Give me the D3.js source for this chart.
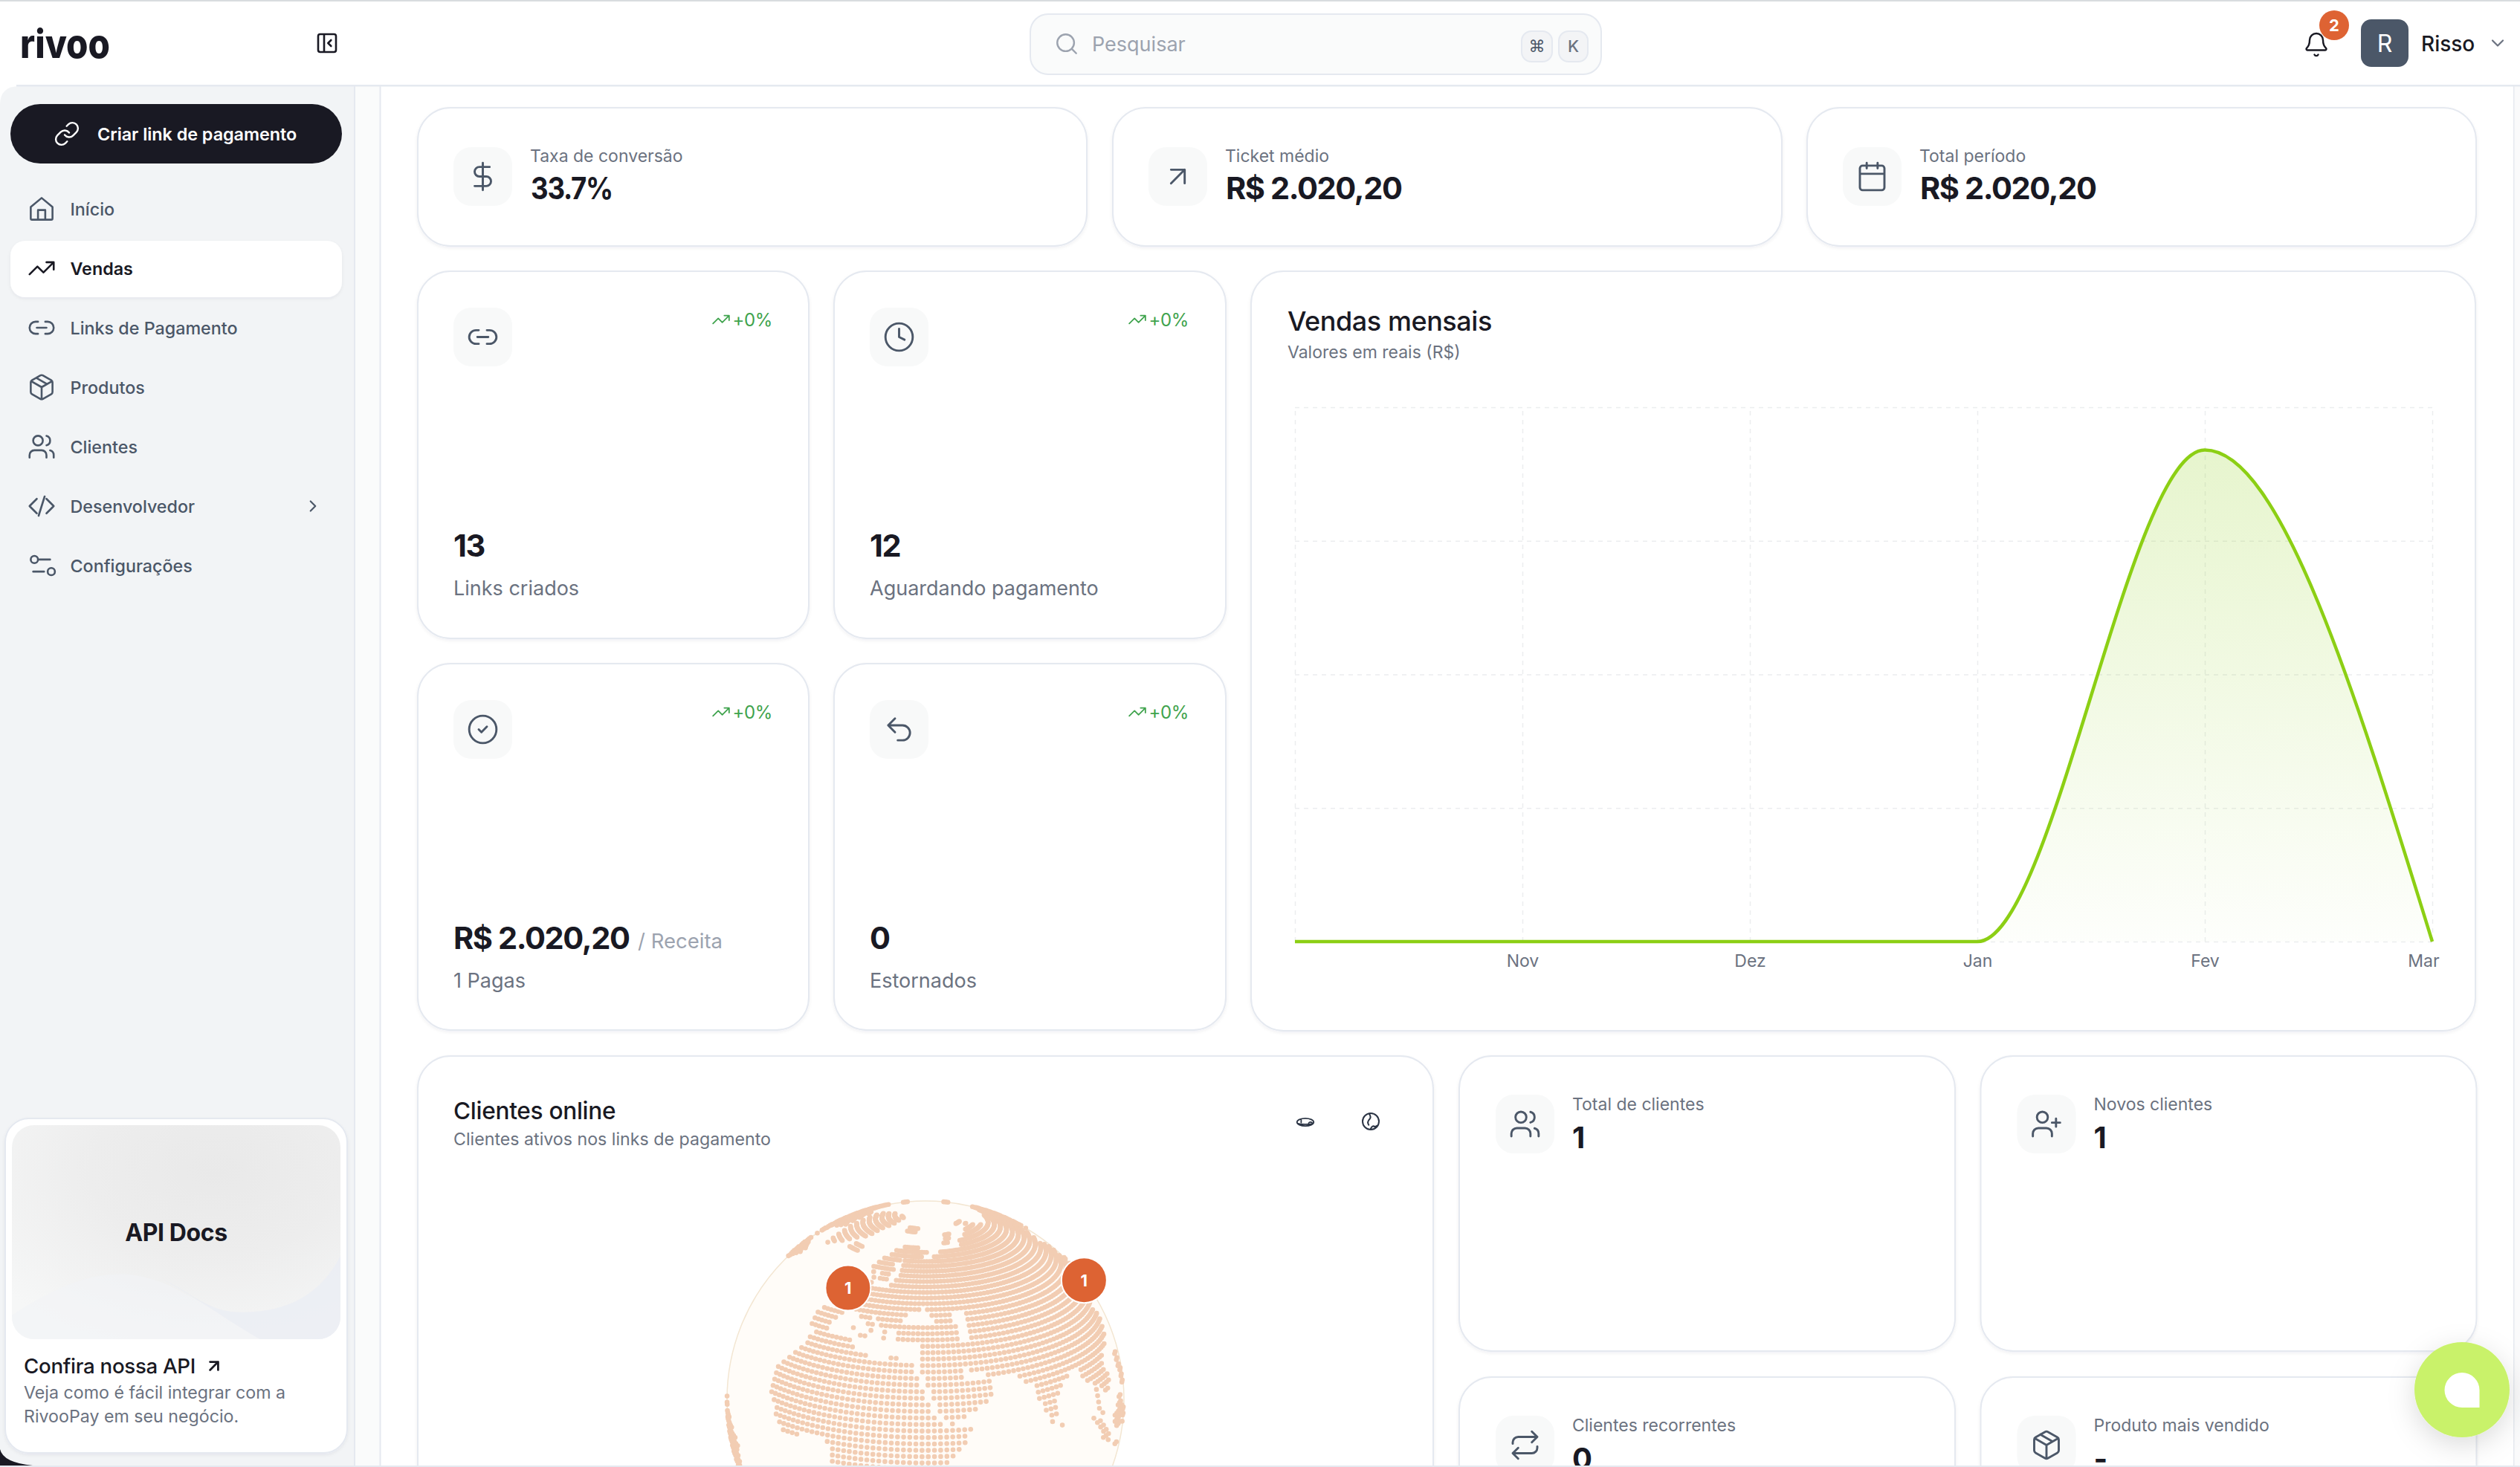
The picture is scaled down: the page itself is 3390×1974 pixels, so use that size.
<![CDATA[<!DOCTYPE html>
<html><head><meta charset="utf-8">
<script src="https://cdn.jsdelivr.net/npm/d3@7"></script>
<style>html,body{margin:0;padding:0;background:#fff;overflow:hidden}svg{display:block}text{font-family:Inter,"Noto Sans",sans-serif}</style>
</head><body><div id="app"></div>
<script>
// ---------- DATA ----------
const months = ["Out","Nov","Dez","Jan","Fev","Mar"];
const salesValues = [0,0,0,0,2020.2,0];
const gridValues = [0,549,1098,1647,2196];
const tickMonths = ["Nov","Dez","Jan","Fev","Mar"];
const menuLabels = ["Início","Vendas","Links de Pagamento","Produtos","Clientes","Desenvolvedor","Configurações"];
const topLabels = ["Taxa de conversão","Ticket médio","Total período"];
const topValues = ["33.7%","R$ 2.020,20","R$ 2.020,20"];
const statValues = ["13","12","R$ 2.020,20","0"];
const statLabels = ["Links criados","Aguardando pagamento","1 Pagas","Estornados"];
const clientLabels = ["Total de clientes","Novos clientes","Clientes recorrentes","Produto mais vendido"];
const clientValues = ["1","1","0","-"];
const markerCities = [{lon:-1.3,lat:51,count:1},{lon:139.7,lat:35,count:1}];
// simplified coastlines (lon, lat)
const landPolygons = [
 [[-17,15],[-17,21],[-13,27],[-10,30],[-6,35.5],[0,36],[10,37],[11,33.5],[20,31],[25,32],[32,31],[34,28],[37,21],[39,15.5],[43,12],[51,12],[48,5],[40,-3],[40,-15],[35,-24],[28,-33],[19,-35],[15,-27],[12,-17],[13,-8],[9,-1],[9,4],[5,6],[-4,5],[-8,4],[-13,9]],
 [[-9,37],[-9.5,43],[-2,43.5],[-1,46],[-4.5,48.5],[-1,49.5],[2,51],[4,52.5],[8,54],[8,57],[10.5,57.5],[10.5,54.5],[14,54],[19,54.5],[21,57],[24,59],[29,60],[23,60],[21.5,63],[25,65.5],[22,65.5],[17.5,62],[18.5,59.5],[16,56],[13,55.5],[11,59],[7,58],[5,60],[8,63.5],[14,68],[20,70],[26,71],[33,69.5],[41,67],[35,66],[36,64],[41,65],[44,67.5],[54,68.5],[60,69],[68,69],[69,73],[75,72],[80,73.5],[90,75.5],[104,77.5],[113,74],[130,71.5],[140,73],[160,70],[180,69],[180,62],[163,60],[156,51],[156,58],[143,59],[135,54.5],[140,50],[133,43],[128,39],[129,35.5],[126,34.5],[125,39],[121,39],[118,38.5],[122,37],[120,32],[122,29],[117,23],[110,21],[106,19.5],[109,14],[109,11.5],[105,9],[100,13.5],[99.5,9],[103.5,1.5],[100.5,3.5],[98,9],[97.5,16],[94,16],[91,22.5],[86.5,20],[80,15],[80,10],[77.5,8],[73,18],[72.5,21],[69,22],[67,25],[57,25.5],[56,27],[51,28],[48,30],[50,26],[52,24],[56,26],[59.5,22.5],[55,17],[45,12.5],[43,13],[39,21],[35,28],[34.5,31.5],[36,36],[30,36.5],[27,37],[26,40],[29,41],[27,41],[23,40],[24,38],[22,36.5],[19.5,41],[13,45.5],[16,41.5],[18.5,40],[16,38],[12,42],[9,44],[3,43],[0,39.5],[-2,36.7],[-5,36]],
 [[-5.5,50],[1,51],[1.5,53],[-2,56],[-2,58],[-5,58.5],[-5,55],[-3,53.5],[-5,52]],
 [[-10,52],[-6,52],[-6,55],[-10,54.5]],
 [[-24,64],[-14,64],[-14,66.5],[-22,66.5]],
 [[-45,60],[-22,70],[-18,80],[-30,83.5],[-60,82],[-70,77],[-53,67]],
 [[12,77],[25,77],[27,80],[12,80]],
 [[52,71],[57,71],[68,76.5],[60,76]],
 [[90,79],[105,78],[100,81]],
 [[8,39],[10,39],[10,41],[8,41]],[[12.5,37],[15.5,37],[15.5,38.2],[12.5,38.2]],[[23.5,35],[26,35],[26,35.5],[23.5,35.5]],[[32.5,34.6],[34.5,34.6],[34.5,35.5],[32.5,35.5]],
 [[80,6],[82,7.5],[80,9.5]],
 [[44,-16],[50,-13],[50,-16],[47,-25],[44,-24]],
 [[95,5.5],[99,4],[106,-3],[105,-6],[101,-3]],
 [[105,-7],[114,-7],[114,-8.5],[106,-7.8]],
 [[109,1],[113,4],[117,7],[119,1],[116,-4],[110,-3]],
 [[120,18],[122,18],[126,7],[122,7],[120,14]],
 [[119,-5],[121,1],[125,1],[122,-5]],
 [[120,22],[122,25],[121,25]],
 [[130,32],[136,34],[141,36],[142,40],[145,44],[141,45],[140,40],[136,36],[131,34]],
 [[-80,10],[-60,10],[-50,0],[-35,-7],[-39,-18],[-48,-26],[-57,-35],[-70,-55],[-75,-40],[-70,-18],[-81,-5]],
 [[-62,10],[-60,10],[-60,18],[-62.5,18]],
 [[-168,65],[-162,70],[-140,70],[-125,70],[-110,68],[-95,68],[-85,69],[-82,73],[-70,70],[-62,66],[-70,62],[-78,62],[-78,52],[-70,52],[-60,54],[-55,52],[-65,46],[-70,44],[-75,38],[-81,30],[-97,26],[-90,18],[-80,10],[-90,15],[-105,20],[-120,35],[-125,48],[-150,60],[-165,55]]
];
const seaPolygons = [
 [[28,41.5],[29,45],[31,46.5],[37,47],[41,42],[36,41.5]],
 [[47,45],[53,46.5],[54,37],[50,37],[49,41]]
];
// ---------- HELPERS ----------
const W=3390,H=1974;
const svg=d3.select("#app").append("svg").attr("width",W).attr("height",H).attr("viewBox",[0,0,W,H]);
const defs=svg.append("defs");
const INK="#191923",GREY="#6B7280",SLATE="#4B5768",LINE="#E5E9F0",GREEN="#3FA34D";
function rect(g,x,y,w,h,r,fill,stroke,sw){return g.append("rect").attr("x",x).attr("y",y).attr("width",w).attr("height",h).attr("rx",r||0).attr("fill",fill||"none").attr("stroke",stroke||"none").attr("stroke-width",sw||0)}
function text(g,s,x,y,size,weight,fill,opt){opt=opt||{};return g.append("text").text(s).attr("x",x).attr("y",y).attr("font-size",size).attr("font-weight",weight).attr("fill",fill).attr("dominant-baseline","central").attr("text-anchor",opt.anchor||"start").attr("letter-spacing",opt.ls||0)}
const IC={
 home:"M3 10.5 12 3l9 7.5V20a1 1 0 0 1-1 1H4a1 1 0 0 1-1-1Z M9 21v-8h6v8",
 trend:"M22 7 13.5 15.5 8.5 10.5 2 17 M16 7h6v6",
 link2:"M9 17H7A5 5 0 0 1 7 7h2 M15 7h2a5 5 0 1 1 0 10h-2 M8 12h8",
 box:"M21 8a2 2 0 0 0-1-1.73l-7-4a2 2 0 0 0-2 0l-7 4A2 2 0 0 0 3 8v8a2 2 0 0 0 1 1.73l7 4a2 2 0 0 0 2 0l7-4A2 2 0 0 0 21 16Z M3.3 7 12 12l8.700-5 M12 22V12 M7.5 4.27l9 5.15",
 users:"M16 21v-2a4 4 0 0 0-4-4H6a4 4 0 0 0-4 4v2 M9 3a4 4 0 1 0 0 8 4 4 0 0 0 0-8 M22 21v-2a4 4 0 0 0-3-3.87 M16 3.13a4 4 0 0 1 0 7.75",
 code:"M16 18l6-6-6-6 M8 6l-6 6 6 6 M14.5 4l-5 16",
 sliders:"M14 17H5 M19 7h-9 M17 17a3 3 0 1 0 6 0 3 3 0 1 0-6 0 M3 7a3 3 0 1 0 6 0 3 3 0 1 0-6 0",
 chevR:"M9 18l6-6-6-6",chevD:"M6 9l6 6 6-6",
 link:"M10 13a5 5 0 0 0 7.54.54l3-3a5 5 0 0 0-7.07-7.07l-1.72 1.71 M14 11a5 5 0 0 0-7.54-.54l-3 3a5 5 0 0 0 7.07 7.07l1.71-1.71",
 dollar:"M12 2v20 M17 5H9.5a3.5 3.5 0 0 0 0 7h5a3.5 3.5 0 0 1 0 7H6",
 arrow:"M7 17 17 7 M7 7h10v10",
 cal:"M8 2v4 M16 2v4 M5 4h14a2 2 0 0 1 2 2v14a2 2 0 0 1-2 2H5a2 2 0 0 1-2-2V6a2 2 0 0 1 2-2Z M3 10h18",
 clock:"M12 2a10 10 0 1 0 0 20 10 10 0 0 0 0-20 M12 6v6l4 2",
 check:"M12 2a10 10 0 1 0 0 20 10 10 0 0 0 0-20 M9 12l2 2 4-4",
 undo:"M9 14 4 9l5-5 M4 9h10.5a5.5 5.5 0 0 1 0 11H11",
 repeat:"M17 2l4 4-4 4 M3 11v-1a4 4 0 0 1 4-4h14 M7 22l-4-4 4-4 M21 13v1a4 4 0 0 1-4 4H3",
 userPlus:"M16 21v-2a4 4 0 0 0-4-4H6a4 4 0 0 0-4 4v2 M9 3a4 4 0 1 0 0 8 4 4 0 0 0 0-8 M19 8v6 M22 11h-6",
 bell:"M10.3 21a1.9 1.9 0 0 0 3.4 0 M3.3 15.3A1 1 0 0 0 4 17h16a1 1 0 0 0 .7-1.7C19.4 14 18 12.5 18 8A6 6 0 0 0 6 8c0 4.5-1.4 6-2.7 7.3",
 search:"M11 3a8 8 0 1 0 0 16 8 8 0 0 0 0-16 M21 21l-4.3-4.3",
 panel:"M5 3h14a2 2 0 0 1 2 2v14a2 2 0 0 1-2 2H5a2 2 0 0 1-2-2V5a2 2 0 0 1 2-2Z M9 3v18 M16 15l-3-3 3-3",
 earth:"M12 2a10 10 0 1 0 0 20 10 10 0 0 0 0-20 M10 2.3c2 3 2.500 5 .5 7-2 2-3 4-1 7 M12 21c1-3 3-4 5-2.500 1-.5 2-.5 3-1.500",
 flat:"M2 12c0-2.500 4.500-4.500 10-4.500s10 2 10 4.500-4.500 4.500-10 4.500S2 14.500 2 12Z M7 9v3.500 M16 13c1-1.500 3-1.500 4-.5 M2.500 13.500C6 15 18 15 21.500 13.500"
};
function icon(g,name,cx,cy,size,color,sw){const k=size/24;return g.append("path").attr("d",IC[name]).attr("transform",`translate(${cx-size/2},${cy-size/2}) scale(${k})`).attr("fill","none").attr("stroke",color).attr("stroke-width",(sw||2)/k).attr("stroke-linecap","round").attr("stroke-linejoin","round")}
const sh=defs.append("filter").attr("id","cardShadow").attr("x","-5%").attr("y","-5%").attr("width","110%").attr("height","115%");
sh.append("feDropShadow").attr("dx",0).attr("dy",2).attr("stdDeviation",2).attr("flood-color","#1f2a44").attr("flood-opacity",0.06);
const fs=defs.append("filter").attr("id","fabShadow").attr("x","-50%").attr("y","-50%").attr("width","200%").attr("height","200%");
fs.append("feDropShadow").attr("dx",0).attr("dy",10).attr("stdDeviation",18).attr("flood-color","#000").attr("flood-opacity",0.14);
function card(g,x,y,w,h,r){return rect(g,x,y,w,h,r||44,"#fff",LINE,2).attr("filter","url(#cardShadow)")}
function iconBox(g,x,y,name){rect(g,x,y,79,79,24,"#F8F9F9");icon(g,name,x+39.5,y+39.5,44,SLATE,2.9)}
// ---------- PAGE FRAME ----------
const root=svg.append("g");
rect(root,0,0,W,H,0,"#fff");
rect(root,0,0,W,2,0,"#D8DCDF");
const main=root.append("g");
rect(main,477,115,34,H-115,0,"#FAFBFB");
rect(main,3381,115,9,H-115,0,"#FAFAFB");
rect(main,3381,115,1.5,H-115,0,LINE);
rect(main,510.5,115,2,H-115,0,LINE);
const side=root.append("g");
side.append("path").attr("d",`M0 ${H} V141 Q0 116 26 116 H477 V${H} Z`).attr("fill","#F2F4F6");
rect(side,476,115,2,H-115,0,LINE);
rect(root,22,114,W-22,2.5,0,LINE);
rect(side,14,140,446,80,40,INK);
icon(side,"link",90,180,36,"#fff",2.4);
text(side,"Criar link de pagamento",131,180,23.4,600,"#fff",{ls:-0.05});
rect(side,14,324,446,76,20,"#fff").attr("filter","url(#cardShadow)");
const menuIcons=["home","trend","link2","box","users","code","sliders"];
const menuY=d3.scaleLinear().domain([0,1]).range([281,361]);
menuLabels.forEach((m,i)=>{const y=menuY(i),on=i===1;
 icon(side,menuIcons[i],56,y,39,on?INK:SLATE,2.6);
 text(side,m,94.500,y,23.3,on?600:500,on?INK:SLATE);
});
icon(side,"chevR",421,681,26,SLATE,2.2);
card(side,7,1505,460,450,32);
const apiG=defs.append("radialGradient").attr("id","apiGrad").attr("cx",0.62).attr("cy",0.22).attr("r",0.85);
apiG.selectAll("stop").data([["0%","#E9E9E9"],["45%","#EDEDED"],["100%","#F6F7F7"]]).join("stop").attr("offset",d=>d[0]).attr("stop-color",d=>d[1]);
defs.append("clipPath").attr("id","apiClip").append("rect").attr("x",16).attr("y",1514).attr("width",442).attr("height",288).attr("rx",30);
const api=side.append("g").attr("clip-path","url(#apiClip)");
rect(api,16,1514,442,288,0,"url(#apiGrad)");
api.append("path").attr("d","M458 1690C430 1745 380 1770 310 1765C270 1760 240 1730 200 1720C150 1705 90 1720 16 1770V1802H458Z").attr("fill","#F1F3F6").attr("opacity",.6);
api.append("path").attr("d","M220 1722C270 1750 310 1780 350 1802H458V1690C430 1745 380 1770 310 1765C275 1760 250 1735 220 1722Z").attr("fill","#E9EDF4").attr("opacity",.7);
text(side,"API Docs",237,1658,32,700,INK,{anchor:"middle",ls:-0.4});
text(side,"Confira nossa API",32,1838,27.7,500,INK,{ls:-0.3});
icon(side,"arrow",288,1838,26,INK,2.8);
text(side,"Veja como é fácil integrar com a",32,1874,23.2,400,GREY);
text(side,"RivooPay em seu negócio.",32,1906,23.2,400,GREY);
side.append("path").attr("d",`M0 1950 Q4 1968 44 1972 H0 Z`).attr("fill",INK);
rect(root,0,1972,W,2,0,LINE);
const hd=root.append("g");
hd.append("text").text("rivoo").attr("x",27).attr("y",78).attr("font-size",54).attr("font-weight",800).attr("fill",INK).attr("textLength",121).attr("lengthAdjust","spacingAndGlyphs");
icon(hd,"panel",440,58,32,INK,2.6);
rect(hd,1386,19,768,81,24,"#FAFBFB",LINE,2);
icon(hd,"search",1435,59,34,"#9CA3AF",2.4);
text(hd,"Pesquisar",1469,59,27,400,"#9CA3AF");
rect(hd,2047,42,41,41,13,"#F3F4F6",LINE,2);
rect(hd,2097,42,39,41,13,"#F3F4F6",LINE,2);
text(hd,"⌘",2067.5,62,22,500,SLATE,{anchor:"middle"}).style("font-family","'DejaVu Sans'");
text(hd,"K",2116.5,62,22,500,GREY,{anchor:"middle"});
icon(hd,"bell",3116,60,36,INK,2.4);
hd.append("circle").attr("cx",3140).attr("cy",34).attr("r",20).attr("fill","#DE6333");
text(hd,"2",3140,34,22,700,"#fff",{anchor:"middle"});
rect(hd,3176,26,64,64,14,SLATE);
text(hd,"R",3208,58,32,400,"#fff",{anchor:"middle"});
text(hd,"Risso",3257,59,28,500,INK);
icon(hd,"chevD",3360,58,28,"#6B7280",2.2);
// ---------- KPI CARDS ----------
const kp=root.append("g");
const topX=[562,1497,2431],topIcons=["dollar","arrow","cal"];
topLabels.forEach((l,i)=>{const x=topX[i];
 card(kp,x,145,900,186);iconBox(kp,x+48,198,topIcons[i]);
 text(kp,l,x+151,210,23,400,GREY);
 const t=text(kp,topValues[i],x+152,253,41.500,700,INK,{ls:-1.4});
 if(i===0) t.attr("textLength",110).attr("lengthAdjust","spacingAndGlyphs");
});
const statX=[562,1122,562,1122],statY=[365,365,893,893],statH=[494,494,493,493],statIcons=["link2","clock","check","undo"];
statValues.forEach((v,i)=>{const x=statX[i],y=statY[i];
 card(kp,x,y,i%2?527:526,statH[i]);iconBox(kp,x+48,y+49,statIcons[i]);
 const r=x+477;
 text(kp,"+0%",r,y+65,24,400,GREEN,{anchor:"end",ls:-0.4});
 icon(kp,"trend",r-69,y+65,26,GREEN,1.8);
 text(kp,v,x+48,y+368.500,41.500,700,INK,{ls:-1.4});
 text(kp,statLabels[i],x+48,y+426,27,400,GREY);
});
text(kp,"/ Receita",858,1266,27.500,400,"#9CA3AF");
// ---------- AREA CHART ----------
const ch=root.append("g");
card(ch,1683,365,1647,1022);
text(ch,"Vendas mensais",1732,431.5,36,500,INK,{ls:-0.45});
text(ch,"Valores em reais (R$)",1732,474,23,400,GREY);
const x=d3.scalePoint().domain(months).range([1742,3272]);
const y=d3.scaleLinear().domain([0,2196]).range([1267,548]);
const gridC="#ECEDEF";
ch.append("g").attr("transform","translate(0,1267)").call(d3.axisBottom(x).tickSize(-719).tickFormat("")).call(g=>{g.select(".domain").remove();g.selectAll("line").attr("stroke",gridC).attr("stroke-width",1.5).attr("stroke-dasharray","6 6")});
ch.append("g").attr("transform","translate(1742,0)").call(d3.axisLeft(y).tickValues(gridValues).tickSize(-1530).tickFormat("")).call(g=>{g.select(".domain").remove();g.selectAll("line").attr("stroke",gridC).attr("stroke-width",1.5).attr("stroke-dasharray","6 6")});
const lg=defs.append("linearGradient").attr("id","areaGrad").attr("gradientUnits","userSpaceOnUse").attr("x1",0).attr("x2",0).attr("y1",y(2020.2)).attr("y2",y(0));
lg.selectAll("stop").data([["0%",.21],["100%",.015]]).join("stop").attr("offset",d=>d[0]).attr("stop-color","#8CCF14").attr("stop-opacity",d=>d[1]);
const series=months.map((m,i)=>({m,v:salesValues[i]}));
ch.append("path").datum(series).attr("fill","url(#areaGrad)").attr("d",d3.area().x(d=>x(d.m)).y0(y(0)).y1(d=>y(d.v)).curve(d3.curveMonotoneX));
ch.append("path").datum(series).attr("fill","none").attr("stroke","#8CCF14").attr("stroke-width",4.5).attr("d",d3.line().x(d=>x(d.m)).y(d=>y(d.v)).curve(d3.curveMonotoneX));
ch.append("g").attr("transform","translate(0,1267)").call(d3.axisBottom(x).tickValues(tickMonths).tickSize(0).tickPadding(0)).call(g=>{g.select(".domain").remove();g.selectAll("text").attr("fill",GREY).attr("font-size",23).attr("font-family","Inter").attr("dy",0).attr("y",26).attr("dominant-baseline","central").attr("dx",d=>d==="Mar"?-12:0)});
// ---------- BOTTOM ----------
const bt=root.append("g");
defs.append("clipPath").attr("id","mainClip").append("rect").attr("x",513).attr("y",116).attr("width",2868).attr("height",1856);
const cl=bt.append("g").attr("clip-path","url(#mainClip)");
card(cl,562,1421,1366,700);
text(cl,"Clientes online",610,1494,31.6,500,INK,{ls:-0.3});
text(cl,"Clientes ativos nos links de pagamento",610,1533,23.2,400,GREY);
icon(cl,"flat",1756,1510,27,"#2B3444",1.8);
icon(cl,"earth",1844,1509,26.4,"#2B3444",2);
// globe
const R=267;
const proj=d3.geoOrthographic().scale(R).translate([1245,1883]).rotate([-37,-20]).clipAngle(90).precision(.1);
const center=[37,20];
cl.append("circle").attr("cx",1245).attr("cy",1883).attr("r",R).attr("fill","#FFFCF8").attr("stroke","#F3E6D2").attr("stroke-width",1.5);
const latRows=d3.range(-88,84,1.9),lonCols=d3.range(-180,180,1.8);
const dots=[];
latRows.forEach(lat=>lonCols.forEach(lon=>{
 const p=[lon,lat];
 if(d3.geoDistance(p,center)>=Math.PI/2-0.005) return;
 if(!landPolygons.some(q=>d3.polygonContains(q,p))) return;
 if(seaPolygons.some(q=>d3.polygonContains(q,p))) return;
 const c=proj(p); if(c[1]<1985) dots.push(c);
}));
cl.append("g").attr("fill","#F2CDB3").selectAll("circle").data(dots).join("circle").attr("cx",d=>d[0]).attr("cy",d=>d[1]).attr("r",3.3);
markerCities.forEach(c=>{const p=proj([c.lon,c.lat]);
 cl.append("circle").attr("cx",p[0]).attr("cy",p[1]).attr("r",30.5).attr("fill","#DD6333").attr("stroke","#fff").attr("stroke-width",2);
 text(cl,c.count,p[0],p[1],22,700,"#fff",{anchor:"middle"});
});
// client cards
const cX=[1963,2664.5,1963,2664.5],cY=[1421,1421,1853,1853],cIcons=["users","userPlus","repeat","box"];
clientLabels.forEach((l,i)=>{const xx=cX[i],yy=cY[i];
 card(cl,xx,yy,667,397);iconBox(cl,xx+49,yy+52,cIcons[i]);
 text(cl,l,xx+152,yy+65,23,400,GREY);
 text(cl,clientValues[i],xx+152,yy+109,40,700,INK,{ls:-1});
});
// chat FAB
const fab=root.append("g");
fab.append("circle").attr("cx",3312).attr("cy",1870).attr("r",64).attr("fill","#C9F26B").attr("filter","url(#fabShadow)");
fab.append("path").attr("d","M3312 1847a23.500 23.500 0 0 0 0 47H3335.500V1870.500A23.500 23.500 0 0 0 3312 1847Z").attr("fill","#fff");
</script></body></html>]]>
